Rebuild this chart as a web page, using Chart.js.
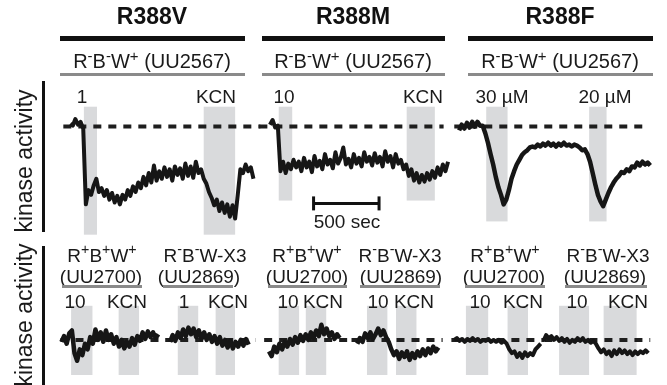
<!DOCTYPE html>
<html lang="en">
<head>
<meta charset="utf-8" />
<title>Kinase activity traces</title>
<script src="https://cdn.jsdelivr.net/npm/chart.js@4.4.1/dist/chart.umd.min.js"></script>
<style>
  html, body { margin: 0; padding: 0; background: #fff; }
  body { width: 667px; height: 385px; position: relative; overflow: hidden;
         font-family: "Liberation Sans", Arial, Helvetica, sans-serif; color: #1a1a1a; }
  #chart { position: absolute; left: 0; top: 0; }
  .t { position: absolute; transform: translate(-50%, -50%); white-space: nowrap; font-size: 19px; line-height: 1; }
  .sub { font-size: 20px; }
  .title { font-weight: bold; font-size: 23px; color: #111; }
  .ylab { position: absolute; font-size: 23px; line-height: 1; white-space: nowrap; transform: translate(-50%, -50%) rotate(-90deg); }
  .rule { position: absolute; }
  sup { font-size: 0.75em; line-height: 0; vertical-align: 0.5em; }
</style>
</head>
<body>
<canvas id="chart" width="667" height="385"></canvas>
<script>
// sampling: one value every STEP seconds, activity in % of baseline (dashed line = 100)
const STEP = 20
const PPS = 0.135 // screen px per second (500 sec bar = 67.5 px)

// top row, strain UU2567
const tr388V = [103, 101, 108, 102, 105, 98, 18, 33, 28, 38, 45, 31, 35, 27, 33, 23, 30, 20, 27, 18,
  28, 23, 33, 27, 37, 31, 41, 35, 47, 38, 51, 41, 59, 43, 53, 45, 57, 47, 55, 43,
  58, 49, 56, 45, 61, 48, 58, 46, 63, 51, 55, 45, 40, 31, 25, 17, 23, 11, 20, 9,
  18, 5, 17, 3, 28, 55, 51, 60, 53, 57, 45]
const tr388M = [102, 107, 99, 101, 53, 63, 51, 61, 55, 65, 57, 63, 53, 67, 57, 63, 52, 69, 58, 64,
  55, 71, 60, 65, 56, 73, 61, 67, 78, 60, 66, 57, 71, 61, 67, 58, 73, 63, 68, 59,
  72, 62, 68, 58, 74, 63, 69, 57, 71, 61, 65, 55, 60, 48, 55, 43, 51, 41, 49, 42,
  51, 44, 53, 46, 57, 49, 60, 53, 63]
const tr388F = [96, 102, 98, 104, 99, 105, 100, 105, 101, 101, 93, 83, 71, 60, 47, 36, 28, 18, 23, 33,
  45, 53, 60, 65, 70, 73, 75, 78, 79, 78, 81, 79, 82, 80, 83, 80, 82, 79, 82, 80,
  83, 80, 81, 79, 81, 80, 78, 75, 76, 71, 63, 51, 39, 28, 21, 16, 23, 30, 36, 41,
  45, 48, 52, 51, 55, 53, 58, 57, 62, 59, 63, 60, 62, 59]

// bottom row, control strains UU2700 (R+B+W+) and UU2869 (R-B-W-X3)
const trVwt = [98, 104, 96, 107, 110, 86, 78, 90, 84, 96, 90, 103, 96, 111, 100, 108, 98, 110, 100, 106,
  96, 103, 93, 100, 91, 98, 93, 102, 95, 104, 99, 108, 101, 109, 103, 108, 102, 106]
const trVx3 = [98, 105, 99, 108, 102, 111, 104, 113, 106, 112, 103, 110, 101, 108, 100, 106, 98, 104, 96, 103,
  94, 100, 92, 99, 91, 98, 93, 100, 94, 101, 95]
const trMwt = [88, 83, 93, 87, 96, 90, 98, 93, 101, 95, 103, 97, 105, 99, 106, 100, 108, 102, 110, 104,
  116, 106, 112, 104, 108, 101, 106, 102]
const trMx3 = [96, 102, 98, 107, 102, 108, 101, 106, 112, 105, 110, 103, 98, 90, 84, 88, 80, 87, 82, 88,
  79, 86, 81, 88, 83, 90, 84, 91, 86, 93, 88, 92]
const trFwt = [100, 102, 99, 101, 98, 101, 99, 102, 99, 101, 98, 100, 99, 101, 98, 100, 98, 100, 97, 99,
  96, 90, 86, 88, 82, 86, 81, 87, 83, 86, 84, 90, 93, 96]
const trFx3 = [99, 105, 102, 104, 100, 103, 99, 102, 98, 101, 97, 100, 98, 102, 99, 102, 98, 100, 97, 99,
  96, 91, 87, 90, 85, 88, 83, 89, 85, 90, 86, 89, 85, 88, 84, 88, 85, 88, 86, 89, 86]

// stimulus windows (s from trace start) and baseline extents
const bands388V = [[105, 205], [1020, 1260]]
const bands388M = [[67, 170], [1044, 1259]]
const bands388F = [[207, 370], [993, 1126]]
const bandsVwt = [[74, 237], [437, 593]]
const bandsVx3 = [[59, 215], [348, 496]]
const bandsMwt = [[74, 230], [281, 437]]
const bandsMx3 = [[74, 230], [296, 452]]
const bandsFwt = [[89, 259], [407, 563]]
const bandsFx3 = [[119, 348], [459, 711]]
const scaleBar = [333, 833] // 500 sec

const W = 667
const panels = [
  { id: 'xV', row: 'yTop', origin: 62, trace: tr388V, bands: bands388V, dash: [-52, 1452], bandTop: 121, bandBottom: -14, lw: 4 },
  { id: 'xM', row: 'yTop', origin: 268, trace: tr388M, bands: bands388M, dash: [-81, 1326], bandTop: 121, bandBottom: 22, lw: 4 },
  { id: 'xF', row: 'yTop', origin: 463, trace: tr388F, bands: bands388F, dash: [-37, 1422], bandTop: 121, bandBottom: 0, lw: 4.5 },
  { id: 'xVwt', row: 'yBot', origin: 53, trace: trVwt, bands: bandsVwt, dash: [-7, 793], bandTop: 136, bandBottom: 63, lw: 4.5 },
  { id: 'xVx3', row: 'yBot', origin: 165, trace: trVx3, bands: bandsVx3, dash: [-37, 652], bandTop: 136, bandBottom: 63, lw: 4.5 },
  { id: 'xMwt', row: 'yBot', origin: 267, trace: trMwt, bands: bandsMwt, dash: [-37, 630], bandTop: 136, bandBottom: 63, lw: 4.5 },
  { id: 'xMx3', row: 'yBot', origin: 358, trace: trMx3, bands: bandsMx3, dash: [-44, 652], bandTop: 136, bandBottom: 63, lw: 4.5 },
  { id: 'xFwt', row: 'yBot', origin: 458, trace: trFwt, bands: bandsFwt, dash: [-22, 689], bandTop: 136, bandBottom: 63, lw: 4 },
  { id: 'xFx3', row: 'yBot', origin: 550, trace: trFx3, bands: bandsFx3, dash: [7, 815], bandTop: 136, bandBottom: 63, lw: 4 },
]

const scales = {
  yTop: { type: 'linear', display: false, min: -162, max: 223 },
  yBot: { type: 'linear', display: false, min: 63, max: 448 },
}
panels.forEach(p => {
  scales[p.id] = { type: 'linear', display: false, min: -p.origin / PPS, max: (W - p.origin) / PPS }
})

const traces = panels.map(p => ({
  data: p.trace.map((v, i) => ({ x: i * STEP, y: v })),
  xAxisID: p.id, yAxisID: p.row,
  borderColor: '#161616', borderWidth: p.lw, borderJoinStyle: 'round',
  pointRadius: 0, tension: 0, clip: false,
}))
const baselines = panels.map(p => ({
  data: [{ x: p.dash[0], y: 100 }, { x: p.dash[1], y: 100 }],
  xAxisID: p.id, yAxisID: p.row,
  borderColor: '#1e1e1e', borderWidth: 4, borderDash: [8, 7],
  pointRadius: 0, clip: false,
}))
const bar = {
  data: scaleBar.map(x => ({ x, y: 19 })),
  xAxisID: 'xM', yAxisID: 'yTop',
  borderColor: '#111', borderWidth: 3,
  pointStyle: 'line', rotation: 90, pointRadius: 7, pointBorderWidth: 3, pointBorderColor: '#111',
  clip: false,
}

const bandPlugin = {
  id: 'bands',
  beforeDatasetsDraw(chart) {
    const ctx = chart.ctx
    ctx.save()
    ctx.fillStyle = '#d9dadc'
    panels.forEach(p => {
      const xs = chart.scales[p.id], ys = chart.scales[p.row]
      const yT = ys.getPixelForValue(p.bandTop), yB = ys.getPixelForValue(p.bandBottom)
      p.bands.forEach(([a, b]) => {
        const x0 = xs.getPixelForValue(a), x1 = xs.getPixelForValue(b)
        ctx.fillRect(x0, yT, x1 - x0, yB - yT)
      })
    })
    ctx.restore()
  },
}

new Chart(document.getElementById('chart'), {
  type: 'line',
  data: { datasets: [...traces, bar, ...baselines] },
  options: {
    responsive: false,
    animation: false,
    layout: { padding: 0 },
    plugins: { legend: { display: false }, tooltip: { enabled: false } },
    scales,
  },
  plugins: [bandPlugin],
})

// text and rules
const strainTop = 'R<sup>-</sup>B<sup>-</sup>W<sup>+</sup> (UU2567)'
const wt = 'R<sup>+</sup>B<sup>+</sup>W<sup>+</sup>'
const x3 = 'R<sup>-</sup>B<sup>-</sup>W-X3'
const labels = [
  ['R388V', 152, 16, 'title'], ['R388M', 353, 16, 'title'], ['R388F', 560, 16, 'title'],
  [strainTop, 152, 61, 'sub'], [strainTop, 353, 61, 'sub'], [strainTop, 560, 61, 'sub'],
  ['1', 82, 96], ['KCN', 216, 96], ['10', 284, 96], ['KCN', 423, 96], ['30 µM', 502, 96], ['20 µM', 605, 96],
  ['500 sec', 347, 221],
  [wt, 102, 255], [x3, 205, 255], [wt, 307, 255], [x3, 400, 255], [wt, 505, 255], [x3, 608, 255],
  ['(UU2700)', 101, 276], ['(UU2869)', 199, 276], ['(UU2700)', 307, 276], ['(UU2869)', 401, 276],
  ['(UU2700)', 504, 276], ['(UU2869)', 605, 276],
  ['10', 75, 301], ['KCN', 127, 301], ['1', 184, 301], ['KCN', 228, 301], ['10', 288, 301], ['KCN', 323, 301],
  ['10', 378, 301], ['KCN', 414, 301], ['10', 480, 301], ['KCN', 523, 301], ['10', 577, 301], ['KCN', 628, 301],
]
labels.forEach(([html, x, y, cls]) => {
  const d = document.createElement('div')
  d.className = 't' + (cls ? ' ' + cls : '')
  d.style.left = x + 'px'
  d.style.top = y + 'px'
  d.innerHTML = html
  document.body.appendChild(d)
})
const rules = [
  [60, 36, 185, 5, '#111'], [262, 36, 183, 5, '#111'], [468, 36, 185, 5, '#111'],
  [60, 73, 185, 3, '#8a8a8a'], [262, 73, 183, 3, '#8a8a8a'], [468, 73, 185, 3, '#8a8a8a'],
  [62, 285, 80, 3, '#8a8a8a'], [163, 285, 70, 3, '#8a8a8a'], [268, 285, 79, 3, '#8a8a8a'],
  [360, 285, 80, 3, '#8a8a8a'], [465, 285, 80, 3, '#8a8a8a'], [565, 285, 82, 3, '#8a8a8a'],
  [42, 81, 3, 151, '#111'], [42, 246, 3, 139, '#111'],
]
rules.forEach(([x, y, w, h, c]) => {
  const d = document.createElement('div')
  d.className = 'rule'
  Object.assign(d.style, { left: x + 'px', top: y + 'px', width: w + 'px', height: h + 'px', background: c })
  document.body.appendChild(d)
})
;[[24, 161], [24, 315]].forEach(([x, y]) => {
  const d = document.createElement('div')
  d.className = 'ylab'
  d.style.left = x + 'px'
  d.style.top = y + 'px'
  d.textContent = 'kinase activity'
  document.body.appendChild(d)
})
</script>
</body>
</html>
